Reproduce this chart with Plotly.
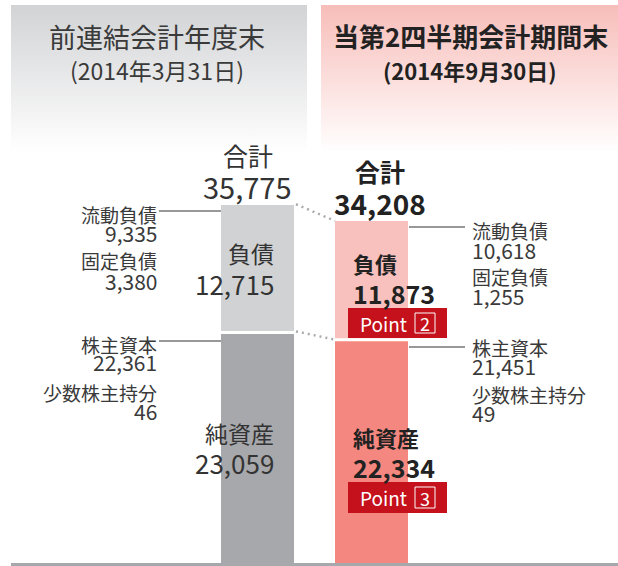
import plotly.graph_objects as go

# ---- data ----
periods = ["前連結会計年度末", "当第2四半期会計期間末"]
dates = ["(2014年3月31日)", "(2014年9月30日)"]
liabilities = [12715, 11873]
net_assets = [23059, 22334]
totals = [35775, 34208]
current_liab = [9335, 10618]
fixed_liab = [3380, 1255]
shareholders_eq = [22361, 21451]
minority_int = [46, 49]
point_nums = ["2", "3"]

# ---- layout constants (pixel based) ----
W, H = 618, 566
BASE_PX = 563          # pixel row of value 0
SCALE = 100            # value units per pixel
bar_x = [257.5, 371.5]
bar_w = 73
FONT = "Noto Sans CJK JP"


def Y(p):
    """pixel row -> data value"""
    return (BASE_PX - p) * SCALE


def fmt(v):
    return f"{v:,}"


fig = go.Figure()

# header panels with vertical gradient
panels = [
    (11, 307, "#d2d3d5"),
    (321, 618, "#f7bdb9"),
]
for x0, x1, col in panels:
    fig.add_trace(go.Scatter(
        x=[x0, x1, x1, x0, x0],
        y=[Y(5), Y(5), Y(152), Y(152), Y(5)],
        mode="lines", line=dict(width=0), fill="toself",
        fillgradient=dict(type="vertical",
                          colorscale=[[0, "#ffffff"], [1, col]]),
        hoverinfo="skip", showlegend=False))

# stacked bars
fig.add_trace(go.Bar(
    x=bar_x, y=net_assets, width=[bar_w] * 2,
    marker=dict(color=["#a7a8ab", "#f4877f"], line=dict(width=0)),
    hoverinfo="skip", showlegend=False))
fig.add_trace(go.Bar(
    x=bar_x, y=liabilities, base=net_assets, width=[bar_w] * 2,
    marker=dict(color=["#d1d2d4", "#f9c1bd"], line=dict(width=0)),
    hoverinfo="skip", showlegend=False))

shapes = []
# white gap between segments
for i in range(2):
    shapes.append(dict(type="line", xref="x", yref="y",
                       x0=bar_x[i] - bar_w / 2, x1=bar_x[i] + bar_w / 2,
                       y0=net_assets[i], y1=net_assets[i],
                       line=dict(color="white", width=3)))
# baseline
shapes.append(dict(type="line", xref="x", yref="y", x0=11, x1=618,
                   y0=-150, y1=-150, line=dict(color="#a7a8ab", width=3)))
# dotted connectors
lx_right = bar_x[0] + bar_w / 2 + 2
rx_left = bar_x[1] - bar_w / 2
for a, b in [(totals[0], totals[1]), (net_assets[0], net_assets[1])]:
    shapes.append(dict(type="line", xref="x", yref="y",
                       x0=lx_right, x1=rx_left, y0=a + 100, y1=b,
                       line=dict(color="#a9aaad", width=2.5, dash="2px,4px")))
# leader lines
lead_col = "#333333"
shapes.append(dict(type="line", x0=159, x1=bar_x[0] - bar_w / 2, y0=Y(211), y1=Y(211),
                   line=dict(color=lead_col, width=1)))
shapes.append(dict(type="line", x0=159, x1=bar_x[0] - bar_w / 2, y0=Y(341), y1=Y(341),
                   line=dict(color=lead_col, width=1)))
shapes.append(dict(type="line", x0=bar_x[1] + bar_w / 2 + 1, x1=465, y0=Y(227), y1=Y(227),
                   line=dict(color=lead_col, width=1)))
shapes.append(dict(type="line", x0=bar_x[1] + bar_w / 2 + 1, x1=465, y0=Y(347), y1=Y(347),
                   line=dict(color=lead_col, width=1)))

# Point boxes
point_rows = [(308, 338), (482, 513)]
for (t, b) in point_rows:
    shapes.append(dict(type="rect", x0=348, x1=447, y0=Y(b), y1=Y(t),
                       fillcolor="#c4111b", line=dict(width=0), layer="above"))
    shapes.append(dict(type="rect", x0=415, x1=435, y0=Y(b - 5), y1=Y(t + 5),
                       fillcolor="rgba(0,0,0,0)",
                       line=dict(color="white", width=1), layer="above"))

ann = []


def txt(x, p, s, size, color="#333333", anchor="center", bold=False):
    ann.append(dict(x=x, y=Y(p), text=(f"<b>{s}</b>" if bold else s),
                    showarrow=False, xanchor=anchor, yanchor="middle",
                    font=dict(family=FONT, size=size, color=color)))


# headers
txt(157, 36, periods[0], 27, "#3a3a3a")
txt(157, 70, dates[0], 23, "#3a3a3a")
txt(470, 35, periods[1], 26, "#222222", bold=True)
txt(470, 70, dates[1], 22, "#222222", bold=True)

# totals
txt(248, 155, "合計", 25, "#333333")
txt(247, 186, fmt(totals[0]), 29, "#333333")
txt(380, 171, "合計", 25, "#222222", bold=True)
txt(380, 203, fmt(totals[1]), 28, "#222222", bold=True)

# left bar labels
txt(276, 253, "負債", 23, "#333333", "right")
txt(276, 283, fmt(liabilities[0]), 26, "#333333", "right")
txt(276, 433, "純資産", 23, "#333333", "right")
txt(276, 462, fmt(net_assets[0]), 26, "#333333", "right")

# right bar labels
txt(351, 263, "負債", 22, "#222222", "left", True)
txt(351, 293, fmt(liabilities[1]), 25, "#222222", "left", True)
txt(351, 437, "純資産", 22, "#222222", "left", True)
txt(351, 467, fmt(net_assets[1]), 25, "#222222", "left", True)

# Point labels
for (t, b), n in zip(point_rows, point_nums):
    mid = (t + b) / 2
    txt(383, mid, "Point", 19, "white")
    txt(425, mid, n, 18, "white")

# left side details
side = 19
num = 21
sidec = "#3a3a3a"
txt(159, 214, "流動負債", side, sidec, "right")
txt(159, 233, fmt(current_liab[0]), num, sidec, "right")
txt(159, 260, "固定負債", side, sidec, "right")
txt(159, 281, fmt(fixed_liab[0]), num, sidec, "right")
txt(159, 344, "株主資本", side, sidec, "right")
txt(159, 362, fmt(shareholders_eq[0]), num, sidec, "right")
txt(159, 392, "少数株主持分", side, sidec, "right")
txt(159, 411, fmt(minority_int[0]), num, sidec, "right")

# right side details
txt(470, 230, "流動負債", side, sidec, "left")
txt(470, 250, fmt(current_liab[1]), num, sidec, "left")
txt(470, 276, "固定負債", side, sidec, "left")
txt(470, 296, fmt(fixed_liab[1]), num, sidec, "left")
txt(470, 347, "株主資本", side, sidec, "left")
txt(470, 366, fmt(shareholders_eq[1]), num, sidec, "left")
txt(470, 394, "少数株主持分", side, sidec, "left")
txt(470, 413, fmt(minority_int[1]), num, sidec, "left")

fig.update_layout(
    width=W, height=H,
    margin=dict(l=0, r=0, t=0, b=0),
    paper_bgcolor="white", plot_bgcolor="white",
    barmode="stack", bargap=0,
    xaxis=dict(range=[0, W], visible=False, fixedrange=True),
    yaxis=dict(range=[Y(H), Y(0)], visible=False, fixedrange=True),
    shapes=shapes, annotations=ann,
    showlegend=False,
)

fig.write_html(
    "out.html",
    config={"displayModeBar": False},
    post_script="document.body.style.margin='0';document.body.style.padding='0';"
                "document.body.style.overflow='hidden';",
)
